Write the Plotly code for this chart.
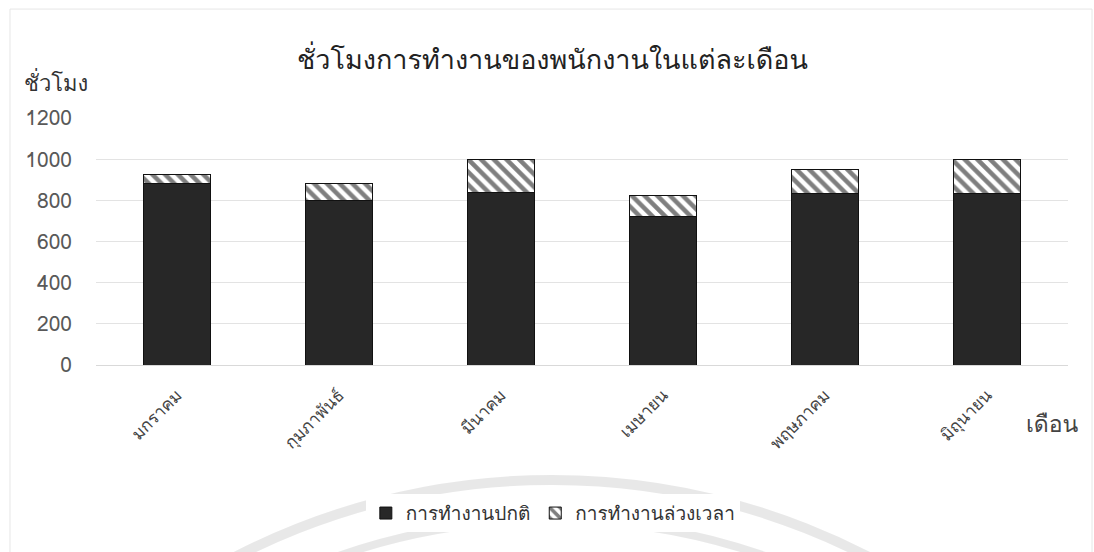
import plotly.graph_objects as go

months = ["มกราคม", "กุมภาพันธ์", "มีนาคม", "เมษายน", "พฤษภาคม", "มิถุนายน"]
regular_hours = [880, 800, 840, 720, 835, 835]
overtime_hours = [45, 80, 160, 105, 115, 165]
y_ticks = [0, 200, 400, 600, 800, 1000, 1200]

title_text = "ชั่วโมงการทำงานของพนักงานในแต่ละเดือน"
y_title = "ชั่วโมง"
x_title = "เดือน"
series_names = ["การทำงานปกติ", "การทำงานล่วงเวลา"]

serif = "Tlwg Typo, Norasi, Loma, Liberation Serif, serif"
sans = "Tlwg Typist, Loma, Noto Sans, DejaVu Sans, sans-serif"

fig = go.Figure()
fig.add_trace(go.Bar(
    x=months, y=regular_hours, name=series_names[0],
    marker=dict(color="#272727", line=dict(color="#111111", width=1)),
))
fig.add_trace(go.Bar(
    x=months, y=overtime_hours, name=series_names[1],
    marker=dict(color="white", line=dict(color="#111111", width=1),
                pattern=dict(shape="\\", fgcolor="#000000", bgcolor="white",
                             size=9, solidity=0.5)),
))

# faint background rings behind the legend
rings = [
    dict(cx=0.469, cy=-3.259, r=690, w=10),
    dict(cx=0.469, cy=-3.259, r=650, w=8),
]
shapes = [
    dict(type="rect", xref="paper", yref="paper", x0=-0.0885, x1=1.0247,
         y0=-1.0, y1=1.441, line=dict(color="#e6e6e6", width=1), layer="below"),
]
for ring in rings:
    shapes.append(dict(
        type="circle", xref="paper", yref="paper",
        xsizemode="pixel", ysizemode="pixel",
        xanchor=ring["cx"], yanchor=ring["cy"],
        x0=-ring["r"], x1=ring["r"], y0=-ring["r"], y1=ring["r"],
        line=dict(color="rgba(0,0,0,0.09)", width=ring["w"]), layer="below",
    ))

fig.update_layout(
    barmode="stack",
    bargap=0.59,
    width=1094, height=552,
    margin=dict(l=96, r=26, t=118, b=187),
    paper_bgcolor="white", plot_bgcolor="white",
    font=dict(family=sans, color="#595959", size=16),
    title=dict(text=title_text, x=0.505, xanchor="center", y=0.893, yanchor="middle",
               font=dict(family=serif, size=27, color="#222222")),
    showlegend=True,
    legend=dict(orientation="h", x=0.47, xanchor="center", y=-0.60, yanchor="middle",
                traceorder="normal",
                font=dict(family=serif, size=19, color="#333333"),
                itemwidth=30, tracegroupgap=0),
    xaxis=dict(showgrid=False, showline=False, ticks="", tickangle=-45,
               ticklabelstandoff=16,
               tickfont=dict(family=serif, size=17, color="#444444")),
    yaxis=dict(range=[0, 1200], tickvals=y_ticks, showgrid=True,
               gridcolor="#e3e3e3", gridwidth=1, zeroline=True,
               zerolinecolor="#d9d9d9", zerolinewidth=1,
               ticks="", ticklabelstandoff=23,
               tickfont=dict(size=21, color="#595959")),
    annotations=[
        dict(text=y_title, xref="paper", yref="paper", x=-0.076, y=1.14,
             xanchor="left", yanchor="middle", showarrow=False,
             font=dict(family=sans, size=22, color="#333333")),
        dict(text=x_title, xref="paper", yref="paper", x=1.013, y=-0.24,
             xanchor="right", yanchor="middle", showarrow=False,
             font=dict(family=sans, size=23, color="#444444")),
    ],
    shapes=shapes,
)

fig.write_html("out.html")
